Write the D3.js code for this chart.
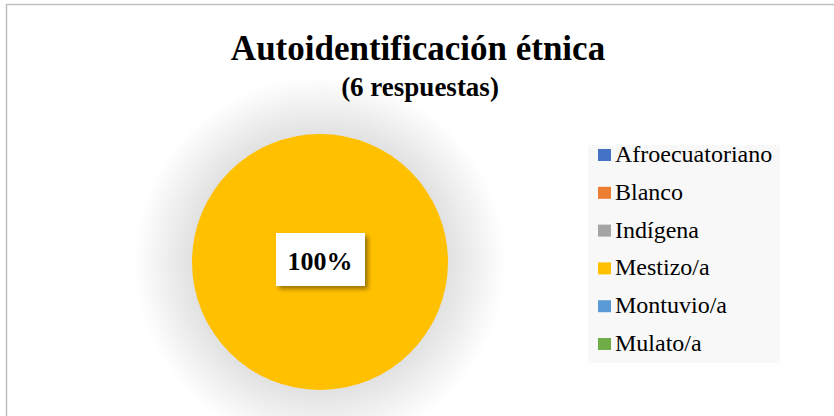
<!DOCTYPE html>
<html lang="es">
  <head>
    <meta charset="UTF-8">
    <title>Autoidentificación étnica</title>
    <style>
body{
    margin: 0;
    background: #fff;
}
svg{
    display: block;
    font-family: "Liberation Serif", "Times New Roman", serif;
}
    </style>
  </head>
  <body>
    <script src="https://cdn.jsdelivr.net/npm/d3@7/dist/d3.min.js"></script>
    <script>
var categories = ["Afroecuatoriano", "Blanco", "Indígena", "Mestizo/a", "Montuvio/a", "Mulato/a"];
var values = [0, 0, 0, 6, 0, 0];
var colors = ["#4472c4", "#ed7d31", "#a5a5a5", "#ffc000", "#5b9bd5", "#70ad47"];
var title = "Autoidentificación étnica", subtitle = "(6 respuestas)";

var width = 834, height = 416, cx = 320, cy = 262, radius = 128;

var svg = d3.select("body").append("svg")
    .attr("width", width)
    .attr("height", height);

var defs = svg.append("defs");
var glow = defs.append("radialGradient").attr("id", "glow");
glow.append("stop").attr("offset", "68%").attr("stop-color", "#000").attr("stop-opacity", 0.12);
glow.append("stop").attr("offset", "100%").attr("stop-color", "#000").attr("stop-opacity", 0);

var blur = defs.append("filter").attr("id", "shadow")
    .attr("x", "-20%").attr("y", "-20%").attr("width", "150%").attr("height", "150%");
blur.append("feDropShadow").attr("dx", 3).attr("dy", 3).attr("stdDeviation", 2)
    .attr("flood-color", "#000").attr("flood-opacity", 0.4);

// chart frame
svg.append("rect")
    .attr("x", 6.5).attr("y", 4.5)
    .attr("width", width).attr("height", height)
    .attr("fill", "#fff")
    .attr("stroke", "#bfbfbf")
    .attr("stroke-width", 1.5);

svg.append("text")
    .attr("x", 418).attr("y", 60)
    .attr("text-anchor", "middle")
    .attr("font-size", 35).attr("font-weight", "bold")
    .text(title);

svg.append("text")
    .attr("x", 420).attr("y", 96)
    .attr("text-anchor", "middle")
    .attr("font-size", 27).attr("font-weight", "bold")
    .text(subtitle);

// soft shadow behind the pie
svg.append("circle")
    .attr("cx", cx).attr("cy", cy)
    .attr("r", radius * 1.45)
    .attr("fill", "url(#glow)");

var pie = d3.pie().sort(null).value(function(d){ return d; });
var arc = d3.arc().innerRadius(0).outerRadius(radius);
var arcs = pie(values);

var g = svg.append("g").attr("transform", "translate(" + cx + "," + cy + ")");
g.selectAll("path")
    .data(arcs.filter(function(d){ return d.value > 0; }))
    .enter().append("path")
    .attr("d", arc)
    .attr("fill", function(d){ return colors[d.index]; });

var total = d3.sum(values);
var fmt = d3.format(".0%");
arcs.filter(function(d){ return d.value > 0; }).forEach(function(d){
    var p = (d.endAngle - d.startAngle) >= 2 * Math.PI - 1e-6 ? [0, 0] : arc.centroid(d);
    var lab = g.append("g").attr("transform", "translate(" + p[0] + "," + p[1] + ")");
    lab.append("rect")
        .attr("x", -44).attr("y", -29)
        .attr("width", 89).attr("height", 53)
        .attr("fill", "#fff")
        .attr("filter", "url(#shadow)");
    lab.append("text")
        .attr("text-anchor", "middle")
        .attr("y", 8)
        .attr("font-size", 26).attr("font-weight", "bold")
        .text(fmt(d.value / total));
});

// legend
svg.append("rect")
    .attr("x", 588).attr("y", 145)
    .attr("width", 192).attr("height", 218)
    .attr("fill", "#f8f8f8");

var row = d3.scalePoint().domain(categories).range([162, 351]);
var legend = svg.selectAll("g.legend")
    .data(categories)
    .enter().append("g")
    .attr("class", "legend")
    .attr("transform", function(d){ return "translate(598," + row(d) + ")"; });
legend.append("rect")
    .attr("x", 0).attr("y", -13)
    .attr("width", 13).attr("height", 12)
    .attr("fill", function(d, i){ return colors[i]; });
legend.append("text")
    .attr("x", 17).attr("y", 0)
    .attr("font-size", 24)
    .text(function(d){ return d; });
    </script>
  </body>
</html>
